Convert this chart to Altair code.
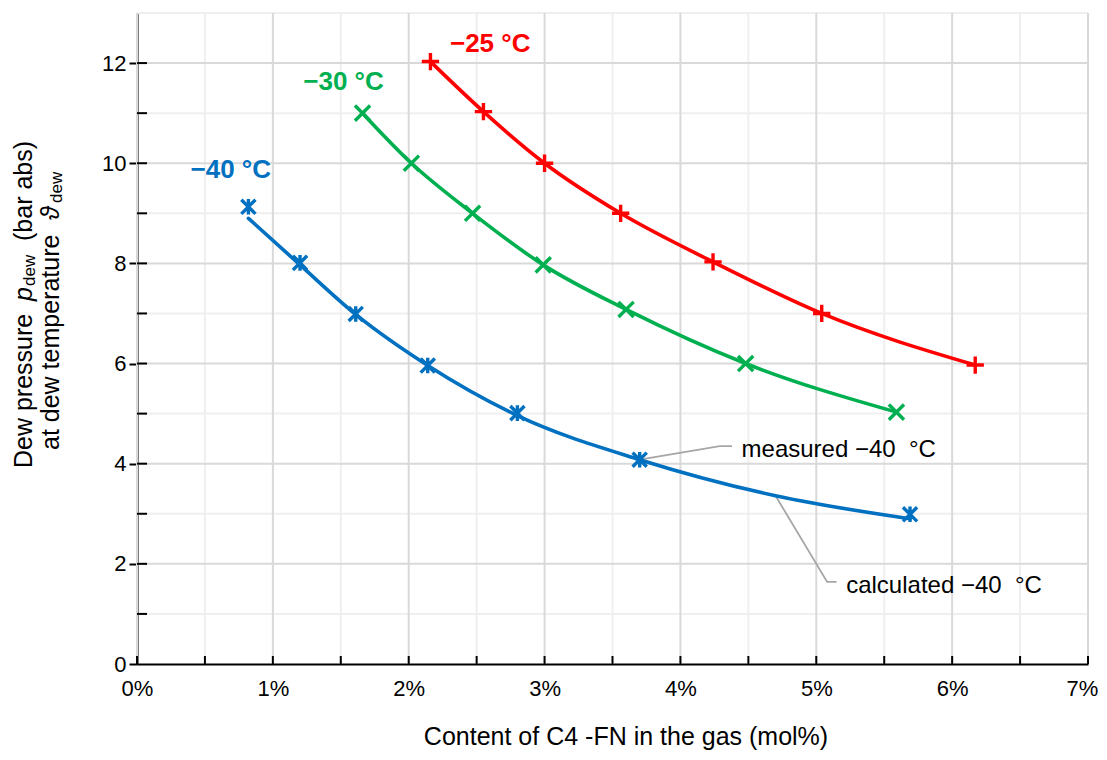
import altair as alt
import pandas as pd

# ---------------- data ----------------
red_x = [2.16, 2.55, 3.00, 3.56, 4.24, 5.04, 6.17]
red_y = [12.03, 11.03, 10.0, 9.0, 8.03, 7.0, 5.97]

green_x = [1.66, 2.02, 2.47, 2.99, 3.60, 4.48, 5.59]
green_y = [11.0, 10.0, 9.0, 7.97, 7.08, 6.0, 5.03]

blue_meas_x = [0.82, 1.20, 1.61, 2.14, 2.80, 3.70, 5.69]
blue_meas_y = [9.13, 8.01, 6.99, 5.96, 5.01, 4.08, 2.99]

blue_calc_x = [0.82, 1.20, 1.61, 2.14, 2.80, 3.70, 4.70, 5.69]
blue_calc_y = [8.90, 7.97, 6.98, 5.96, 4.96, 4.08, 3.36, 2.90]

series_names = ["−25 °C", "−30 °C", "−40 °C"]
series_colors = ["#FF0000", "#00B050", "#0070C0"]
label_x = [2.60, 1.52, 0.69]
label_y = [12.38, 11.62, 9.86]

ann_texts = ["measured −40\u00a0\u00a0°C", "calculated −40\u00a0\u00a0°C"]
ann_x = [4.45, 5.22]
ann_y = [4.27, 1.56]
lead_meas_x = [3.70, 4.29, 4.38]
lead_meas_y = [4.08, 4.35, 4.35]
lead_calc_x = [4.70, 5.08, 5.15]
lead_calc_y = [3.36, 1.64, 1.64]

x_major = [0, 1, 2, 3, 4, 5, 6, 7]
x_minor = [0.5, 1.5, 2.5, 3.5, 4.5, 5.5, 6.5]
x_ticks = [0, 0.5, 1, 1.5, 2, 2.5, 3, 3.5, 4, 4.5, 5, 5.5, 6, 6.5, 7]
y_major = [0, 2, 4, 6, 8, 10, 12]
y_minor = [1, 3, 5, 7, 9, 11, 13]
y_ticks = [1, 2, 3, 4, 5, 6, 7, 8, 9, 10, 11, 12]

x_title = "Content of C4 -FN in the gas (mol%)"

# ---------------- chart ----------------
W, H = 951, 651
FONT = "Liberation Sans"
xs = alt.Scale(domain=[0, 7], nice=False, zero=False)
ys = alt.Scale(domain=[0, 13], nice=False, zero=False)

XAX = alt.Axis(values=x_major, labelExpr="datum.value + '%'", grid=False, labelFlush=False,
               labelOffset={"condition": {"test": "datum.value == 7", "value": -6}, "value": 0},
               ticks=False, domainColor="black", domainWidth=2,
               labelFont=FONT, labelFontSize=22, labelColor="black", labelPadding=14,
               titleFont=FONT, titleFontSize=25, titleFontWeight="normal",
               titleColor="black", titleX=W / 2 + 13, titleY=80, titleBaseline="alphabetic",
               titleAlign="center")
YAX = alt.Axis(values=y_major, grid=False, tickSize=8, tickWidth=2, tickColor="black",
               domainColor="black", domainWidth=2, title=None, labelFlush=False,
               labelFont=FONT, labelFontSize=22, labelColor="black", labelPadding=3)


def X(f):
    return alt.X(f, scale=xs, axis=XAX, title=x_title)


def Y(f):
    return alt.Y(f, scale=ys, axis=YAX, title=None)


def rules_x(vals, color, w):
    return alt.Chart(pd.DataFrame({"v": vals})).mark_rule(color=color, strokeWidth=w).encode(
        x=X("v:Q"))


def rules_y(vals, color, w):
    return alt.Chart(pd.DataFrame({"v": vals})).mark_rule(color=color, strokeWidth=w).encode(
        y=Y("v:Q"))


grid = (rules_x(x_minor, "#efefef", 2) + rules_y(y_minor, "#efefef", 2)
        + rules_x(x_major, "#d9d9d9", 2) + rules_y(y_major[1:], "#d9d9d9", 2))

xt = alt.Chart(pd.DataFrame({"v": x_ticks})).mark_rule(color="black", strokeWidth=2).encode(
    x=X("v:Q"), y=alt.value(H), y2=alt.value(H - 8))
yt = alt.Chart(pd.DataFrame({"v": y_ticks})).mark_rule(color="black", strokeWidth=2).encode(
    y=Y("v:Q"), x=alt.value(0), x2=alt.value(10))

# leader lines
leaders = []
for lx, ly in [(lead_meas_x, lead_meas_y), (lead_calc_x, lead_calc_y)]:
    d = pd.DataFrame({"x": lx, "y": ly, "o": list(range(len(lx)))})
    leaders.append(alt.Chart(d).mark_line(color="#a6a6a6", strokeWidth=1.8).encode(
        x=X("x:Q"), y=Y("y:Q"), order="o:Q"))

# curves
curve_sets = [(red_x, red_y), (green_x, green_y), (blue_calc_x, blue_calc_y)]
curves = []
for (cx, cy), col in zip(curve_sets, series_colors):
    d = pd.DataFrame({"x": cx, "y": cy})
    curves.append(alt.Chart(d).mark_line(color=col, strokeWidth=3.6, interpolate="monotone",
                                         strokeCap="round").encode(
        x=X("x:Q"), y=Y("y:Q")))

# markers
PLUS = "M-1,0L1,0M0,-1L0,1"
CROSS = "M-1,-1L1,1M-1,1L1,-1"
STAR = "M-1,-1L1,1M-1,1L1,-1M0,-1.1L0,1.1"
marker_sets = [(red_x, red_y, PLUS, 300), (green_x, green_y, CROSS, 230),
               (blue_meas_x, blue_meas_y, STAR, 200)]
markers = []
for (mx, my, shp, sz), col in zip(marker_sets, series_colors):
    d = pd.DataFrame({"x": mx, "y": my})
    markers.append(alt.Chart(d).mark_point(shape=shp, filled=False, stroke=col, strokeWidth=3.4,
                                           size=sz, opacity=1).encode(
        x=X("x:Q"), y=Y("y:Q")))

# series labels
lab_df = pd.DataFrame({"x": label_x, "y": label_y, "t": series_names})
labels = alt.Chart(lab_df).mark_text(font=FONT, fontSize=26, fontWeight="bold", align="center",
                                     baseline="middle").encode(
    x=X("x:Q"), y=Y("y:Q"), text="t:N",
    color=alt.Color("t:N", scale=alt.Scale(domain=series_names, range=series_colors), legend=None))

ann_df = pd.DataFrame({"x": ann_x, "y": ann_y, "t": ann_texts})
anns = alt.Chart(ann_df).mark_text(font=FONT, fontSize=24, align="left", baseline="middle",
                                   color="black").encode(
    x=X("x:Q"), y=Y("y:Q"), text="t:N")


# y title composed of text pieces (rotated)
def ytxt(text, xpix, ypix, size=25, style="normal", weight="normal"):
    return alt.Chart(pd.DataFrame({"t": [text]})).mark_text(
        font=FONT, fontSize=size, fontStyle=style, fontWeight=weight, angle=270,
        align="left", baseline="middle", color="black").encode(
        text="t:N", x=alt.value(xpix), y=alt.value(ypix))


T = 13  # plot top in page coordinates
ytitle = (
    ytxt("Dew pressure", -113, 468 - T)
    + ytxt("p", -113, 301 - T, style="italic")
    + ytxt("dew", -107, 286 - T, size=17)
    + ytxt("(bar abs)", -113, 241 - T)
    + ytxt("at dew temperature", -86, 450 - T)
    + ytxt("ϑ", -86, 220 - T, style="italic")
    + ytxt("dew", -80, 203 - T, size=17)
)

chart = alt.layer(grid, *leaders, *curves, *markers, labels, anns, xt, yt, ytitle).properties(
    width=W, height=H, autosize="none",
    padding={"left": 129, "top": 5, "right": 11, "bottom": 86},
).configure_view(stroke=None).configure(background="white")

chart.save("out.html", embed_options={"renderer": "svg", "actions": False})
